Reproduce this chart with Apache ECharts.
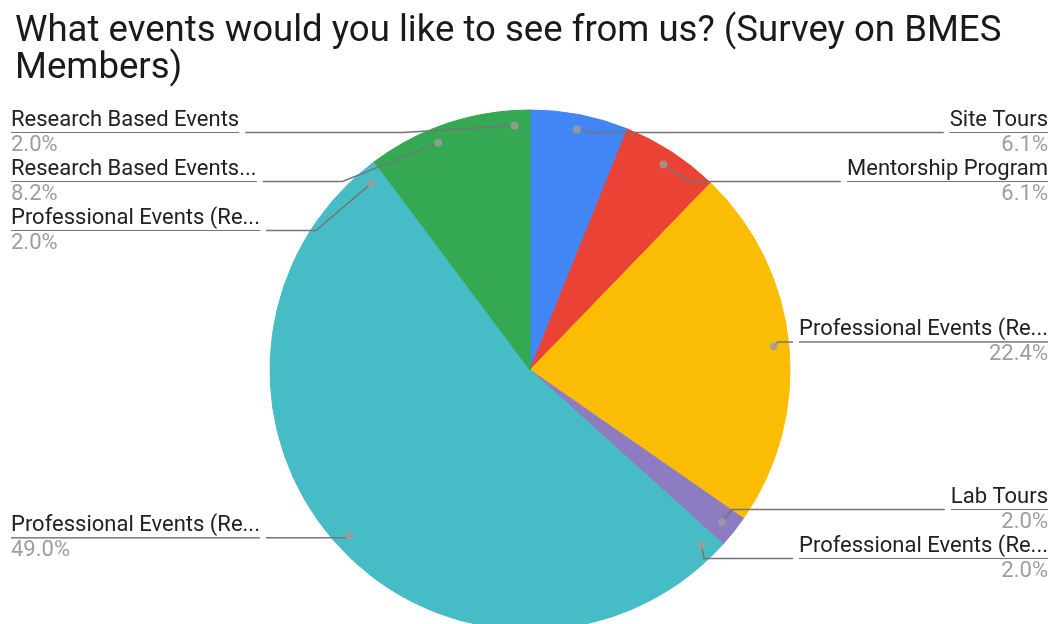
<!DOCTYPE html>
<html>
<head>
<meta charset="utf-8">
<script src="https://cdn.jsdelivr.net/npm/echarts@6/dist/echarts.min.js"></script>
<style>html,body{margin:0;padding:0;background:#fff}#c{width:1052px;height:624px}</style>
</head>
<body>
<div id="c"></div>
<script>
const titleText = 'What events would you like to see from us? (Survey on BMES\nMembers)';
const categories = ['Site Tours','Mentorship Program','Professional Events (Re...','Lab Tours','Professional Events (Re...','Professional Events (Re...','Professional Events (Re...','Research Based Events...','Research Based Events'];
const values = [6.1, 6.1, 22.4, 2.0, 2.0, 49.0, 2.0, 8.2, 2.0];
const colors = ['#4285F4','#EA4335','#FBBC04','#8E7CC3','#46BDC6','#46BDC6','#46BDC6','#34A853','#34A853'];

const total = values.reduce((a,b)=>a+b,0);
let acc = 0;
const dotData = values.map(v => { const mid = acc + v/2; acc += v; return [245, mid/total*100]; });

const chart = echarts.init(document.getElementById('c'), null, {renderer:'canvas'});
const center = [530, 370];
const labelBox = {left:7, top:108, right:0, bottom:41};
chart.setOption({
  animation:false,
  backgroundColor:'#fff',
  title:{text:titleText,left:10,top:8,textStyle:{fontFamily:'Roboto',fontSize:36.6,fontWeight:'normal',color:'#1a1a1a',lineHeight:37}},
  polar:{center:center,radius:260},
  angleAxis:{type:'value',min:0,max:100,startAngle:90,clockwise:true,show:false},
  radiusAxis:{type:'value',min:0,max:260,show:false},
  series:[
    {
      type:'pie',center:center,radius:260,startAngle:90,clockwise:true,z:1,
      silent:true,label:{show:false},labelLine:{show:false},
      data:values.map((v,i)=>({name:categories[i],value:v,itemStyle:{color:colors[i],borderColor:colors[i],borderWidth:1}}))
    },
    {
      type:'pie',left:labelBox.left,top:labelBox.top,right:labelBox.right,bottom:labelBox.bottom,
      center:[center[0]-labelBox.left,center[1]-labelBox.top],radius:245,startAngle:90,clockwise:true,z:3,
      silent:true,
      itemStyle:{color:'rgba(0,0,0,0)'},
      label:{
        show:true,position:'outside',alignTo:'edge',edgeDistance:4,
        fontFamily:'Roboto',
        formatter:p=>'{n|'+p.name+'}\n{hr|}\n{p|'+p.value.toFixed(1)+'%}',
        rich:{
          n:{fontFamily:'Roboto',fontSize:22,lineHeight:25,color:'#212121'},
          hr:{borderColor:'#757575',borderWidth:1,width:'100%',height:0},
          p:{fontFamily:'Roboto',fontSize:22,lineHeight:25,color:'#9e9e9e'}
        }
      },
      labelLine:{show:true,length:4,length2:10,smooth:false,lineStyle:{color:'#757575',width:1.5}},
      data:values.map((v,i)=>({name:categories[i],value:v}))
    },
    {
      type:'scatter',coordinateSystem:'polar',z:4,silent:true,
      symbol:'circle',symbolSize:8,itemStyle:{color:'#9e9e9e'},
      data:dotData
    }
  ]
});
</script>
</body>
</html>
